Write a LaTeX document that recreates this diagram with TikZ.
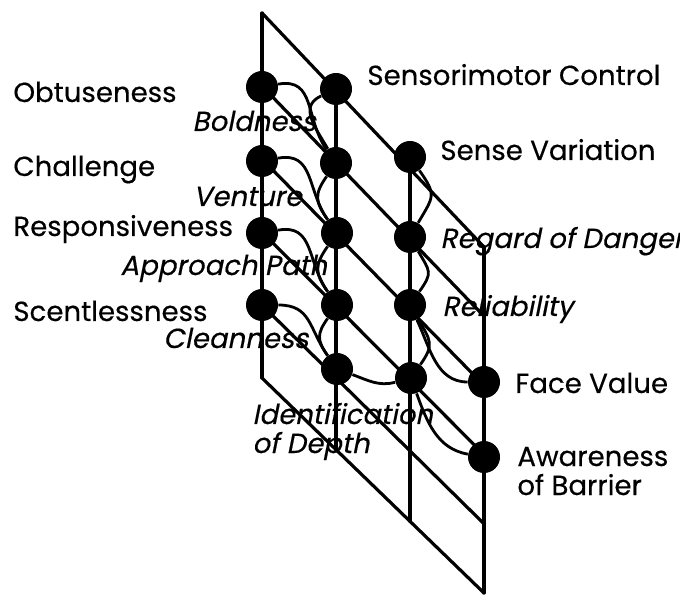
\documentclass[tikz,border=0pt]{standalone}
\usepackage{fontspec}
\setmainfont{Poppins}[AutoFakeSlant=0.2,FakeBold=0.4]

\begin{document}
\begin{tikzpicture}[x=0.5pt,y=-0.5pt,
  gridline/.style={line width=1.6pt,line cap=round},
  link/.style={line width=1.4pt},
  blob/.style={circle,fill=black,minimum size=16pt,inner sep=0pt},
  lab/.style={anchor=base west,inner sep=0pt,align=left,font=\fontsize{13.8}{14.5}\selectfont},
  ilab/.style={lab,font=\fontsize{13.8}{14.5}\selectfont\itshape}]
\useasboundingbox (0,0) rectangle (680,598);
\clip (0,0) rectangle (680,598);
% grid
\foreach \x in {262,336,410,484}
  \draw[gridline] (\x,{13+(\x-262)*1.054}) -- (\x,{378+(\x-262)*0.9685});
\foreach \j in {0,...,5}
  \draw[gridline] (262,{13+73*\j}) -- (484,{247+69.2*\j});
% dots
\node[blob] (obt) at (262,87) {};
\node[blob] (cha) at (262,161) {};
\node[blob] (res) at (262,233) {};
\node[blob] (sce) at (262,305) {};
\node[blob] (sen) at (336,89) {};
\node[blob] (bol) at (336,163) {};
\node[blob] (ven) at (337,233) {};
\node[blob] (app) at (337,305) {};
\node[blob] (cle) at (337,369) {};
\node[blob] (sva) at (410,157) {};
\node[blob] (reg) at (410,237) {};
\node[blob] (rel) at (410,305) {};
\node[blob] (ide) at (411,378) {};
\node[blob] (fac) at (484,382) {};
\node[blob] (awa) at (484,457) {};
% links
\draw[link] (obt) to[out=10,in=125,looseness=1.2] (bol);
\draw[link] (sen) to[out=205,in=120,looseness=1.2] (bol);
\draw[link] (cha) to[out=10,in=125,looseness=1.2] (ven);
\draw[link] (bol) to[out=235,in=125,looseness=1.3] (ven);
\draw[link] (res) to[out=10,in=125,looseness=1.2] (app);
\draw[link] (ven) to[out=235,in=125,looseness=1.3] (app);
\draw[link] (sce) to[out=0,in=125,looseness=1.2] (cle);
\draw[link] (app) to[out=235,in=125,looseness=1.3] (cle);
\draw[link] (sva) to[out=-55,in=60,looseness=1.5] (reg);
\draw[link] (reg) to[out=-60,in=55,looseness=1.5] (rel);
\draw[link] (rel) to[out=-60,in=55,looseness=1.4] (ide);
\draw[link] (rel) to[out=-65,in=180] (fac);
\draw[link] (cle) to[out=-20,in=195] (ide);
\draw[link] (ide) to[out=-70,in=170] (awa);
% labels
\node[lab] (tobt) at (13,102) {Obtuseness};
\node[lab] (tcha) at (13,176) {Challenge};
\node[lab] (tres) at (13,236) {Responsiveness};
\node[lab] (tsce) at (13,321) {Scentlessness};
\node[ilab] (tbol) at (192,131) {Boldness};
\node[ilab] (tven) at (193,206) {Venture};
\node[ilab] (tapp) at (120,275) {Approach Path};
\node[ilab] (tcle) at (163,348) {Cleanness};
\node[lab] (tsen) at (367,85) {Sensorimotor Control};
\node[lab] (tsva) at (440,160) {Sense Variation};
\node[ilab] (treg) at (440,248) {Regard of Danger};
\node[ilab] (trel) at (442,316) {Reliability};
\node[ilab] (tide) at (252,453) {Identification\\of Depth};
\node[lab] (tfac) at (515,393) {Face Value};
\node[lab] (tawa) at (517,495) {Awareness\\of Barrier};
\end{tikzpicture}
\end{document}
